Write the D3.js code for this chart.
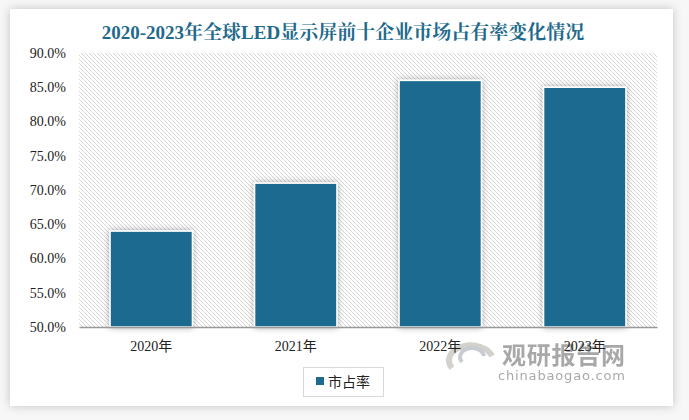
<!DOCTYPE html>
<html><head><meta charset="utf-8">
<script src="https://cdn.jsdelivr.net/npm/d3@7"></script>
<style>body{margin:0;background:#fff;}svg{display:block;}</style>
</head><body>
<script>
const categories = ["2020年","2021年","2022年","2023年"];
const values = [64.0, 71.0, 86.0, 85.0];
const yTicks = [50,55,60,65,70,75,80,85,90];
const seriesName = "市占率";
const title = "2020-2023年全球LED显示屏前十企业市场占有率变化情况";

const W=689,H=420;
const svg=d3.select("body").append("svg").attr("width",W).attr("height",H);
const defs=svg.append("defs");
const sh=defs.append("filter").attr("id","cardsh").attr("x","-10%").attr("y","-10%").attr("width","120%").attr("height","120%");
sh.append("feDropShadow").attr("dx",0).attr("dy",0).attr("stdDeviation",5).attr("flood-color","#000").attr("flood-opacity",0.22);
const bsh=defs.append("filter").attr("id","barsh").attr("x","-30%").attr("y","-30%").attr("width","160%").attr("height","160%");
bsh.append("feDropShadow").attr("dx",0).attr("dy",0).attr("stdDeviation",3).attr("flood-color","#000").attr("flood-opacity",0.35);
const pat=defs.append("pattern").attr("id","hatch").attr("patternUnits","userSpaceOnUse").attr("width",4).attr("height",4);
pat.append("rect").attr("width",4).attr("height",4).attr("fill","#fff");
pat.append("path").attr("d","M-1,-1 L5,5 M3,-1 L5,1 M-1,3 L1,5").attr("stroke","#d6d6d6").attr("stroke-width",1);

svg.append("rect").attr("x",0).attr("y",0).attr("width",W).attr("height",H).attr("fill","#f7f7f7");
svg.append("rect").attr("x",10).attr("y",9).attr("width",663).attr("height",397).attr("fill","#fff").attr("filter","url(#cardsh)");

const m={l:79,r:657,t:53,b:327};
const x=d3.scaleBand().domain(categories).range([m.l,m.r]).paddingInner(0.43).paddingOuter(0.215);
const y=d3.scaleLinear().domain([50,90]).range([m.b,m.t]);

svg.append("text").attr("x",343).attr("y",39).attr("text-anchor","middle")
  .attr("font-family","'Liberation Serif','Noto Serif CJK SC','Noto Sans CJK SC',serif").attr("font-weight","bold")
  .attr("font-size",19).attr("fill","#1f6a8c").text(title);

svg.append("rect").attr("x",m.l).attr("y",m.t).attr("width",m.r-m.l).attr("height",m.b-m.t).attr("fill","url(#hatch)");

svg.append("g").selectAll("rect").data(values).join("rect")
  .attr("x",(d,i)=>x(categories[i])).attr("width",x.bandwidth())
  .attr("y",d=>y(d)).attr("height",d=>y(50)-y(d))
  .attr("fill","#1d6b8f").attr("stroke","#fff").attr("stroke-width",1.5).attr("filter","url(#barsh)");

// watermark
const wm=svg.append("g").attr("opacity",0.75);
wm.append("path").attr("d","M452,368 a22,15 0 1,1 40,-12").attr("fill","none").attr("stroke","#c4c2ba").attr("stroke-width",6);
wm.append("path").attr("d","M462,362 a12,9 0 1,1 22,-6").attr("fill","none").attr("stroke","#b4bcc4").attr("stroke-width",4);
wm.append("text").attr("x",502).attr("y",364).attr("textLength",123).attr("font-family","'Noto Sans CJK SC',sans-serif").attr("font-weight","bold").attr("font-size",24).attr("fill","#8c8c8c").text("观研报告网");
wm.append("text").attr("x",498).attr("y",380).attr("textLength",127).attr("font-family","'DejaVu Sans',sans-serif").attr("font-size",13).attr("fill","#8c8c8c").text("chinabaogao.com");

const ya=svg.append("g").attr("transform",`translate(${m.l},0)`)
  .call(d3.axisLeft(y).tickValues(yTicks).tickFormat(d=>d.toFixed(1)+"%").tickSize(0).tickPadding(13));
ya.select(".domain").remove();
ya.selectAll("text").attr("font-family","'Liberation Serif',serif").attr("font-size",14).attr("fill","#222");

const xa=svg.append("g").attr("transform",`translate(0,${m.b})`)
  .call(d3.axisBottom(x).tickSize(0).tickPadding(14));
xa.select(".domain").attr("stroke","#999").attr("stroke-width",1.5);
xa.selectAll("text").attr("font-family","'Liberation Serif','Noto Sans CJK SC',serif").attr("font-size",14).attr("fill","#222");

const lg=svg.append("g");
lg.append("rect").attr("x",303.5).attr("y",367.5).attr("width",80).attr("height",29).attr("fill","#fff").attr("stroke","#d9d9d9");
lg.append("rect").attr("x",316).attr("y",377).attr("width",8).attr("height",8).attr("fill","#1d6b8f");
lg.append("text").attr("x",328).attr("y",387).attr("font-family","'Noto Sans CJK SC',sans-serif").attr("font-size",14).attr("fill","#222").text(seriesName);
</script>
</body></html>
